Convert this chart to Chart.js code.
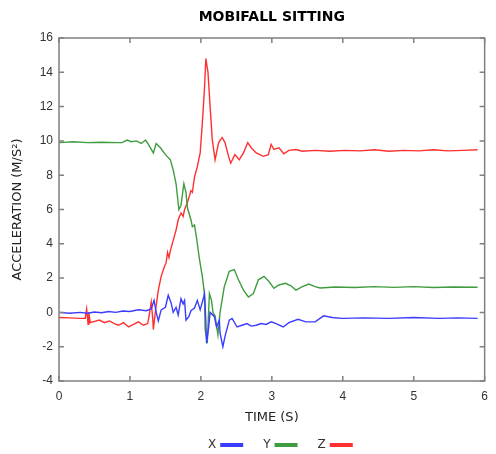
<!DOCTYPE html>
<html>
<head>
<meta charset="utf-8">
<script src="https://cdn.jsdelivr.net/npm/chart.js@4/dist/chart.umd.min.js"></script>
<style>
  html, body { margin: 0; padding: 0; background: #fff; }
</style>
</head>
<body>
<canvas id="chart" width="496" height="454"></canvas>
<script>
// readings taken off the MobiFall "sitting" plot (time in s, acceleration in m/s^2)
let chartTitle = "MOBIFALL SITTING";
let seriesLabels = ["X", "Y", "Z"];
let xTicks = [0, 1, 2, 3, 4, 5, 6];
let yTicks = [-4, -2, 0, 2, 4, 6, 8, 10, 12, 14, 16];

let timeX = [0, 0.15, 0.3, 0.4, 0.5, 0.6, 0.7, 0.8, 0.9, 1.0, 1.12, 1.23, 1.30, 1.34, 1.37, 1.40, 1.44, 1.50, 1.54, 1.58, 1.61, 1.65, 1.68, 1.72, 1.75, 1.77, 1.79, 1.83, 1.86, 1.91, 1.95, 1.99, 2.04, 2.05, 2.06, 2.08, 2.11, 2.13, 2.19, 2.22, 2.26, 2.27, 2.31, 2.34, 2.40, 2.44, 2.51, 2.58, 2.65, 2.71, 2.78, 2.85, 2.92, 2.99, 3.06, 3.16, 3.24, 3.37, 3.48, 3.61, 3.73, 3.85, 3.99, 4.31, 4.65, 5.0, 5.35, 5.62, 5.90];
let accX = [0, -0.05, 0, -0.05, 0.02, -0.02, 0.05, 0, 0.08, 0.05, 0.15, 0.1, 0.2, 0.7, 0, -0.5, 0.15, 0.3, 1.0, 0.55, 0, 0.3, -0.15, 0.8, 0.5, 0.7, -0.45, -0.25, 0.1, 0.25, 0.7, 0.15, 0.9, 1.1, 0.5, -1.8, -0.85, 0, -0.25, -0.85, -0.45, -1.2, -2.0, -1.4, -0.45, -0.35, -0.85, -0.75, -0.65, -0.8, -0.75, -0.65, -0.7, -0.55, -0.65, -0.85, -0.6, -0.4, -0.55, -0.55, -0.2, -0.3, -0.35, -0.32, -0.35, -0.3, -0.35, -0.32, -0.35];

let timeY = [0, 0.2, 0.4, 0.6, 0.8, 0.89, 0.96, 1.02, 1.09, 1.16, 1.22, 1.26, 1.33, 1.37, 1.43, 1.50, 1.57, 1.61, 1.65, 1.69, 1.72, 1.76, 1.79, 1.81, 1.86, 1.88, 1.91, 1.94, 1.98, 2.02, 2.05, 2.06, 2.09, 2.12, 2.15, 2.17, 2.20, 2.24, 2.27, 2.33, 2.40, 2.47, 2.53, 2.60, 2.67, 2.74, 2.81, 2.89, 2.96, 3.03, 3.10, 3.19, 3.27, 3.34, 3.43, 3.52, 3.61, 3.68, 3.89, 4.17, 4.45, 4.72, 5.0, 5.28, 5.55, 5.90];
let accY = [9.9, 9.95, 9.9, 9.92, 9.9, 9.9, 10.05, 9.95, 10.0, 9.85, 10.05, 9.8, 9.3, 9.85, 9.6, 9.2, 8.9, 8.3, 7.5, 6.0, 6.25, 7.5, 7.0, 6.1, 5.4, 5.0, 5.1, 4.3, 3.1, 2.1, 1.1, -1.0, -1.8, 1.1, 0.7, 0, -0.2, -1.3, 0, 1.5, 2.4, 2.5, 1.9, 1.3, 0.9, 1.1, 1.9, 2.1, 1.8, 1.4, 1.6, 1.7, 1.55, 1.3, 1.5, 1.65, 1.5, 1.42, 1.48, 1.45, 1.5, 1.46, 1.5, 1.45, 1.48, 1.47];

let timeZ = [0, 0.15, 0.29, 0.37, 0.39, 0.41, 0.42, 0.44, 0.57, 0.64, 0.71, 0.78, 0.84, 0.91, 0.98, 1.05, 1.12, 1.19, 1.25, 1.27, 1.30, 1.32, 1.33, 1.36, 1.40, 1.44, 1.48, 1.51, 1.53, 1.55, 1.57, 1.61, 1.65, 1.68, 1.72, 1.75, 1.77, 1.81, 1.86, 1.88, 1.91, 1.95, 1.99, 2.02, 2.05, 2.07, 2.10, 2.13, 2.16, 2.20, 2.25, 2.30, 2.34, 2.39, 2.42, 2.48, 2.54, 2.60, 2.66, 2.71, 2.78, 2.88, 2.95, 2.99, 3.03, 3.10, 3.17, 3.24, 3.34, 3.43, 3.61, 3.82, 4.03, 4.24, 4.45, 4.65, 4.86, 5.07, 5.28, 5.48, 5.69, 5.90];
let accZ = [-0.3, -0.32, -0.35, -0.35, 0.2, -0.7, 0, -0.6, -0.45, -0.6, -0.5, -0.65, -0.75, -0.6, -0.85, -0.7, -0.55, -0.75, -0.65, -0.2, 0.6, -0.3, -1.0, 0.1, 1.3, 2.1, 2.6, 2.9, 3.5, 3.2, 3.6, 4.2, 4.8, 5.4, 5.8, 5.6, 6.0, 6.4, 7.1, 7.0, 7.9, 8.5, 9.3, 11.0, 13.0, 14.8, 14.0, 12.0, 10.1, 8.9, 9.9, 10.2, 9.9, 9.1, 8.7, 9.2, 8.9, 9.3, 9.9, 9.6, 9.3, 9.1, 9.2, 9.8, 9.5, 9.6, 9.25, 9.45, 9.5, 9.4, 9.45, 9.4, 9.45, 9.42, 9.48, 9.4, 9.45, 9.42, 9.48, 9.42, 9.45, 9.48];

function toPoints(times, values) {
  return times.map(function(t, i) {
    return { x: t, y: values[i] };
  });
}

// box round the plot with inward ticks, title on top, legend underneath
const framePlugin = {
  id: "frame",
  afterDraw(chart) {
    let ctx = chart.ctx;
    let a = chart.chartArea;
    let sx = chart.scales.x;
    let sy = chart.scales.y;
    ctx.save();
    ctx.strokeStyle = "#808080";
    ctx.lineWidth = 1.5;
    ctx.strokeRect(a.left, a.top, a.right - a.left, a.bottom - a.top);
    ctx.beginPath();
    xTicks.forEach(function(v) {
      let px = sx.getPixelForValue(v);
      ctx.moveTo(px, a.bottom);
      ctx.lineTo(px, a.bottom - 5);
      ctx.moveTo(px, a.top);
      ctx.lineTo(px, a.top + 5);
    });
    yTicks.forEach(function(v) {
      let py = sy.getPixelForValue(v);
      ctx.moveTo(a.left, py);
      ctx.lineTo(a.left + 5, py);
      ctx.moveTo(a.right, py);
      ctx.lineTo(a.right - 5, py);
    });
    ctx.stroke();

    ctx.fillStyle = "#000";
    ctx.font = "bold 14px 'DejaVu Sans'";
    ctx.textAlign = "center";
    ctx.textBaseline = "middle";
    ctx.fillText(chartTitle, (a.left + a.right) / 2, 17);

    ctx.font = "12px 'DejaVu Sans'";
    ctx.textAlign = "left";
    let lx = 208;
    let ly = 445;
    chart.data.datasets.forEach(function(ds) {
      ctx.fillStyle = "#333";
      ctx.fillText(ds.label, lx, ly);
      let start = lx + ctx.measureText(ds.label).width + 4;
      ctx.strokeStyle = ds.borderColor;
      ctx.lineWidth = 4;
      ctx.beginPath();
      ctx.moveTo(start, ly);
      ctx.lineTo(start + 23, ly);
      ctx.stroke();
      lx = start + 23 + 20;
    });
    ctx.restore();
  }
};

let ctx = document.getElementById("chart").getContext("2d");
window.myLine = new Chart(ctx, {
  type: "line",
  data: {
    datasets: [
      { label: seriesLabels[0], data: toPoints(timeX, accX), borderColor: "#3c3cff", order: 0 },
      { label: seriesLabels[1], data: toPoints(timeY, accY), borderColor: "#3f9c3f", order: 1 },
      { label: seriesLabels[2], data: toPoints(timeZ, accZ), borderColor: "#ff3030", order: 2 }
    ]
  },
  options: {
    responsive: false,
    animation: false,
    elements: {
      point: { radius: 0 },
      line: { borderWidth: 1.4, tension: 0 }
    },
    layout: { padding: { top: 38, right: 4, bottom: 0, left: 0 } },
    plugins: {
      legend: { display: false },
      title: { display: false },
      tooltip: { enabled: false }
    },
    scales: {
      x: {
        type: "linear",
        min: 0,
        max: 6,
        afterFit: function(scale) { scale.height = 73; },
        afterBuildTicks: function(scale) {
          scale.ticks = xTicks.map(function(v) { return { value: v }; });
        },
        grid: { display: false, drawTicks: false },
        border: { display: false },
        ticks: { padding: 8, color: "#333", font: { family: "'Liberation Sans'", size: 12 } },
        title: {
          display: true,
          text: "TIME (S)",
          color: "#222",
          font: { family: "'DejaVu Sans'", size: 13 },
          padding: { top: 0, bottom: 29 }
        }
      },
      y: {
        min: -4,
        max: 16,
        afterFit: function(scale) { scale.width = 59; },
        afterBuildTicks: function(scale) {
          scale.ticks = yTicks.map(function(v) { return { value: v }; });
        },
        grid: { display: false, drawTicks: false },
        border: { display: false },
        ticks: { padding: 6, color: "#333", font: { family: "'Liberation Sans'", size: 12 } },
        title: {
          display: true,
          text: "ACCELERATION (M/S²)",
          color: "#222",
          font: { family: "'DejaVu Sans'", size: 13 },
          padding: { top: 10, bottom: 0 }
        }
      }
    }
  },
  plugins: [framePlugin]
});
</script>
</body>
</html>
